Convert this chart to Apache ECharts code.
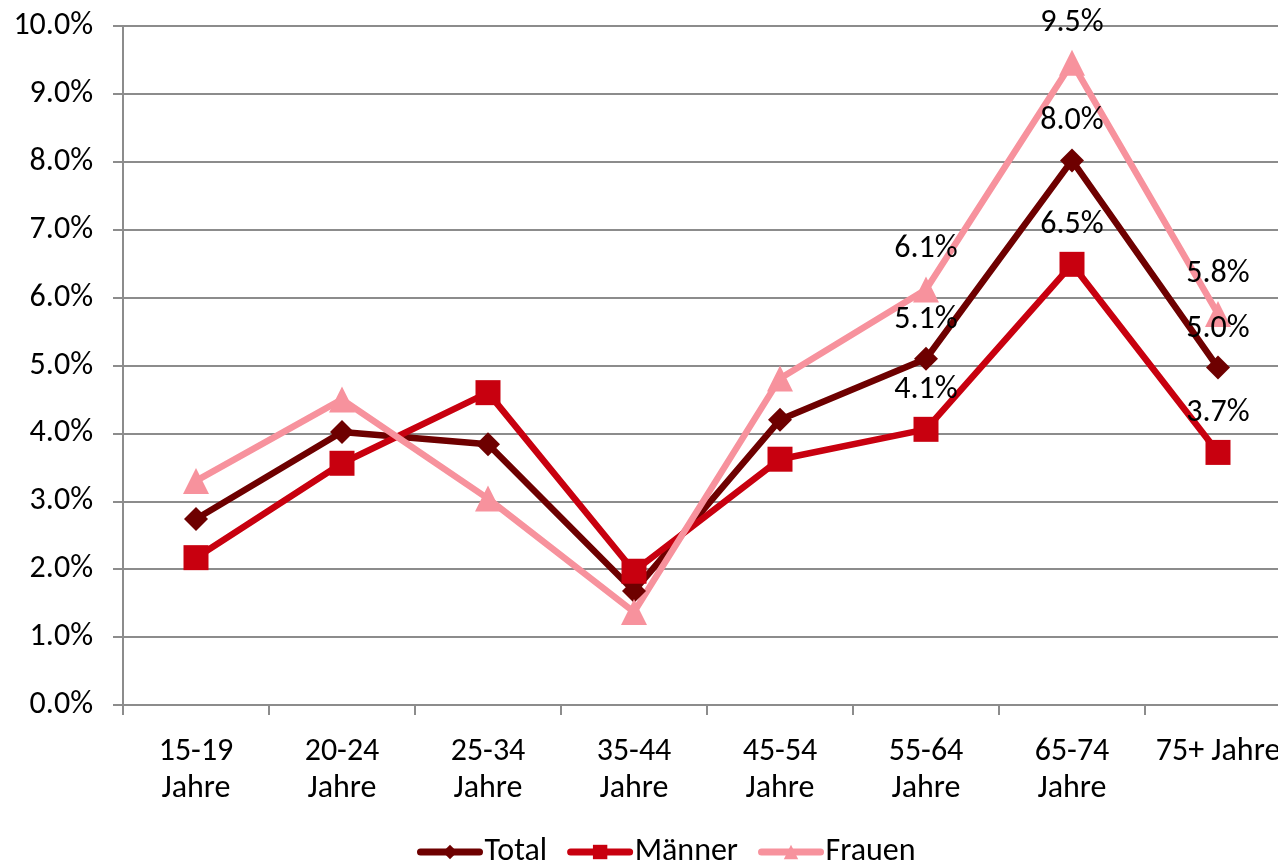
<!DOCTYPE html>
<html>
<head>
<meta charset="utf-8">
<script src="https://cdn.jsdelivr.net/npm/echarts@6/dist/echarts.min.js"></script>
<style>html,body{margin:0;padding:0;background:#fff;}#c{width:1278px;height:860px;}</style>
</head>
<body>
<div id="c"></div>
<script>
const categories = ['15-19\nJahre','20-24\nJahre','25-34\nJahre','35-44\nJahre','45-54\nJahre','55-64\nJahre','65-74\nJahre','75+ Jahre'];
const total  = [2.74, 4.02, 3.84, 1.68, 4.20, 5.10, 8.02, 4.97];
const maenner = [2.17, 3.56, 4.60, 1.97, 3.62, 4.06, 6.49, 3.72];
const frauen = [3.30, 4.50, 3.04, 1.37, 4.81, 6.12, 9.46, 5.76];
const yTicks = [0,1,2,3,4,5,6,7,8,9,10];
const labeledFrom = 5;

const FONT = 'Carlito, Lato, "Liberation Sans", sans-serif';
const FS = 32;
const chart = echarts.init(document.getElementById('c'));

function withLabels(arr) {
  return arr.map((v, i) => i >= labeledFrom
    ? { value: v, label: { show: true } }
    : { value: v });
}
function mkSeries(name, arr, color, symbol, size) {
  return {
    name, type: 'line', data: withLabels(arr),
    symbol, symbolSize: size,
    lineStyle: { color, width: 6.5 },
    itemStyle: { color },
    label: {
      show: false, position: 'top', distance: 11,
      color: '#000', fontSize: FS, fontFamily: FONT,
      formatter: p => p.value.toFixed(1) + '%'
    },
    animation: false
  };
}

chart.setOption({
  backgroundColor: '#fff',
  textStyle: { fontFamily: FONT },
  grid: { left: 123, top: 26, width: 1168, height: 679, outerBoundsMode: 'none', containLabel: false },
  legend: {
    top: 831, left: 412,
    itemWidth: 59, itemHeight: 18, itemGap: 20,
    lineStyle: { width: 7, cap: 'round' },
    textStyle: { fontSize: FS, color: '#000', fontFamily: FONT },
    data: ['Total', 'Männer', 'Frauen']
  },
  xAxis: {
    type: 'category', data: categories, boundaryGap: true,
    axisLine: { lineStyle: { color: '#8c8c8c', width: 2 } },
    axisTick: { show: true, interval: 0, length: 10, lineStyle: { color: '#8c8c8c', width: 2 } },
    axisLabel: { interval: 0, color: '#000', fontSize: FS, fontFamily: FONT, margin: 28, lineHeight: 37 }
  },
  yAxis: {
    type: 'value', min: yTicks[0], max: yTicks[yTicks.length - 1], interval: 1,
    axisLine: { show: true, lineStyle: { color: '#8c8c8c', width: 2 } },
    axisTick: { show: true, length: 10, lineStyle: { color: '#8c8c8c', width: 2 } },
    splitLine: { lineStyle: { color: '#8c8c8c', width: 2 } },
    axisLabel: { color: '#000', fontSize: FS, fontFamily: FONT, margin: 30,
      formatter: v => v.toFixed(1) + '%' }
  },
  series: [
    mkSeries('Total', total, '#6e0000', 'diamond', 24),
    mkSeries('Männer', maenner, '#c8000f', 'rect', 25),
    mkSeries('Frauen', frauen, '#f7929d', 'triangle', 26)
  ]
});
</script>
</body>
</html>
